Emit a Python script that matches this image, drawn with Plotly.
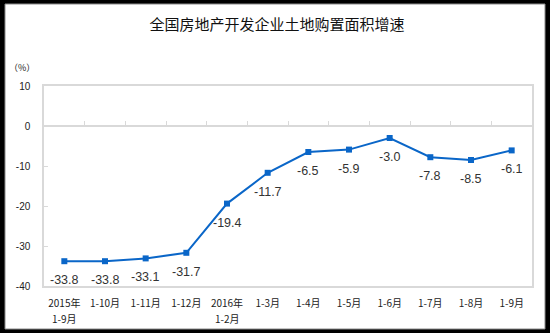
import plotly.graph_objects as go

categories = ["2015年", "1-10月", "1-11月", "1-12月", "2016年", "1-3月",
              "1-4月", "1-5月", "1-6月", "1-7月", "1-8月", "1-9月"]
categories_line2 = ["1-9月", "", "", "", "1-2月", "", "", "", "", "", "", ""]
values = [-33.8, -33.8, -33.1, -31.7, -19.4, -11.7, -6.5, -5.9, -3.0, -7.8, -8.5, -6.1]
value_labels = ["-33.8", "-33.8", "-33.1", "-31.7", "-19.4", "-11.7", "-6.5", "-5.9", "-3.0", "-7.8", "-8.5", "-6.1"]
y_ticks = [10, 0, -10, -20, -30, -40]

W, H = 550, 333
L, R, T, B = 44, 18, 86, 47
pw, ph = W - L - R, H - T - B

def px_x(p):
    return (p - L) / pw

def px_y(p):
    return (H - B - p) / ph

idx = list(range(len(categories)))
CN = "Noto Sans CJK SC, Liberation Sans, sans-serif"
NUM = "Liberation Sans, Arial, sans-serif"
BLUE = "#0A66C8"

fig = go.Figure()
fig.add_trace(go.Scatter(
    x=idx, y=values, mode="lines+markers",
    line=dict(color=BLUE, width=2),
    marker=dict(symbol="square", size=6, color=BLUE),
    hoverinfo="skip", showlegend=False, cliponaxis=False,
))
# invisible trace to anchor the zero-line axis with tick marks
fig.add_trace(go.Scatter(x=[idx[0]], y=[0], xaxis="x2", mode="markers",
                         marker=dict(opacity=0), showlegend=False, hoverinfo="skip"))

annotations = [dict(text="（%）", xref="paper", yref="paper", x=px_x(7), y=px_y(67),
                    xanchor="left", yanchor="middle", showarrow=False,
                    font=dict(family=CN, size=9, color="#222222"))]
for i, (v, t) in enumerate(zip(values, value_labels)):
    annotations.append(dict(text=t, x=i, y=v, xref="x", yref="y", yshift=-19,
                            xanchor="center", yanchor="middle", showarrow=False,
                            font=dict(family=NUM, size=12.5, color="#333333")))
for i, t in enumerate(categories_line2):
    if t:
        annotations.append(dict(text=t, x=i, xref="x", yref="paper", y=px_y(318),
                                xanchor="center", yanchor="middle", showarrow=False,
                                font=dict(family=CN, size=10, color="#222222")))

fig.update_layout(
    width=W, height=H,
    margin=dict(l=L, r=R, t=T, b=B),
    paper_bgcolor="#000000", plot_bgcolor="#FFFFFF",
    title=dict(text="全国房地产开发企业土地购置面积增速", xref="container", yref="container",
               x=277 / W, y=1 - 25 / H, xanchor="center", yanchor="middle",
               font=dict(family=CN, size=15, color="#111111")),
    xaxis=dict(range=[-0.5, len(categories) - 0.5], tickvals=idx, ticktext=categories,
               showgrid=False, zeroline=False, showline=True, mirror=True,
               linecolor="#D9D9D9", linewidth=1.5, ticks="", ticklabelstandoff=7,
               tickfont=dict(family=CN, size=10, color="#222222")),
    xaxis2=dict(range=[-0.5, len(categories) - 0.5], overlaying="x", anchor="free",
                position=(0 - (-40)) / 50, side="bottom",
                tickvals=[i + 0.5 for i in idx[:-1]], ticks="inside", ticklen=4,
                tickcolor="#D9D9D9", showticklabels=False, showgrid=False, zeroline=False,
                showline=True, linecolor="#D9D9D9", linewidth=1.5),
    yaxis=dict(range=[-40, 10], tickvals=y_ticks, ticktext=[str(v) for v in y_ticks],
               showgrid=False, zeroline=False, showline=True, mirror=True,
               linecolor="#D9D9D9", linewidth=1.5, ticks="inside", ticklen=4,
               tickcolor="#D9D9D9", ticklabelstandoff=10,
               tickfont=dict(family=NUM, size=10, color="#222222")),
    shapes=[dict(type="rect", xref="paper", yref="paper",
                 x0=px_x(5), x1=px_x(545), y0=px_y(329), y1=px_y(4),
                 fillcolor="#FFFFFF", line=dict(color="#8A8A8A", width=1), layer="below")],
    annotations=annotations,
)

fig.write_html("out.html")
